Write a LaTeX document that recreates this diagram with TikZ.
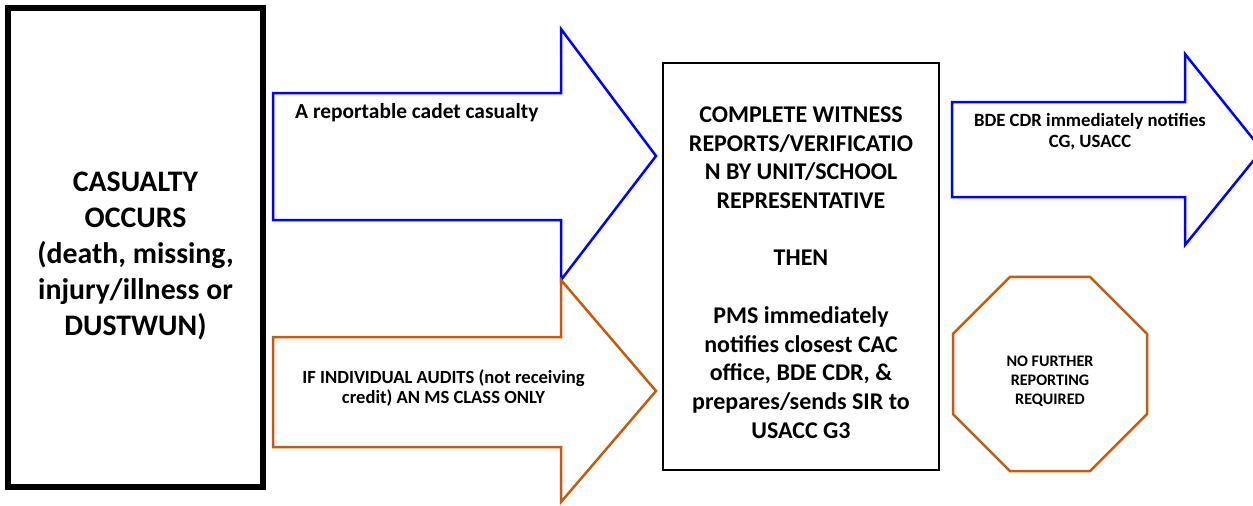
\documentclass[tikz,border=0pt]{standalone}
\usepackage{fontspec}
\setmainfont{Carlito}[BoldFont={Carlito Bold}]
\usetikzlibrary{positioning,calc,shapes.geometric}
\definecolor{ReportBlue}{RGB}{0,0,255}
\definecolor{AuditOrange}{RGB}{197,90,17}

\begin{document}
\begin{tikzpicture}[x=1pt, y=-1pt,
		box/.style={draw, fill=white, inner sep=0pt},
		txt/.style={font=\bfseries, align=center, inner sep=0pt},
		blockarrow/.style={line width=2.5pt, line join=miter, fill=white},
		]
		\useasboundingbox (0,0) rectangle (1253,506);
		
		% ===== left box: casualty occurs =====
		\node[box, line width=6pt, minimum width=255pt, minimum height=479pt] (casualty) at (135.5,247.5) {};
		\node[txt, font=\bfseries\fontsize{29.8}{36}\selectfont] (casualtytxt)
		at ($(casualty.center)+(0,8)$)
		{CASUALTY\\OCCURS\\(death, missing,\\injury/illness or\\DUSTWUN)};
		
		% ===== blue arrow: reportable casualty =====
		\draw[blockarrow, draw=ReportBlue]
		(273,93) -- (561,93) -- (561,29) -- (656,156) -- (561,280) -- (561,220) -- (273,220) -- cycle;
		\node[txt, anchor=west, font=\bfseries\fontsize{21.4}{24}\selectfont] (reportable)
		at (295,113) {A reportable cadet casualty};
		
		% ===== orange arrow: audits only =====
		\draw[blockarrow, draw=AuditOrange]
		(273,337) -- (561,337) -- (561,280) -- (656,391) -- (561,502) -- (561,447) -- (273,447) -- cycle;
		\node[txt, font=\bfseries\fontsize{18.6}{20}\selectfont] (audits)
		at (443.5,388) {IF INDIVIDUAL AUDITS (not receiving\\credit) AN MS CLASS ONLY};
		
		% ===== middle box =====
		\node[box, line width=2pt, minimum width=276pt, minimum height=407pt] (witness) at (801,266.5) {};
		\node[txt, font=\bfseries\fontsize{24}{28.7}\selectfont] (witnesstxt)
		at ($(witness.center)+(0,6)$)
		{COMPLETE WITNESS\\REPORTS/VERIFICATIO\\N BY UNIT/SCHOOL\\REPRESENTATIVE\\[28.7pt]THEN\\[28.7pt]%
			PMS immediately\\notifies closest CAC\\office, BDE CDR, \&\\prepares/sends SIR to\\USACC G3};
		
		% ===== right blue arrow =====
		\draw[blockarrow, draw=ReportBlue]
		(952,102) -- (1185,102) -- (1185,54) -- (1262,150) -- (1185,245) -- (1185,197) -- (952,197) -- cycle;
		\node[txt, font=\bfseries\fontsize{18.7}{21}\selectfont] (notifies)
		at (1090,131.5) {BDE CDR immediately notifies\\CG, USACC};
		
		% ===== octagon: stop =====
		\node[regular polygon, regular polygon sides=8, draw=AuditOrange, line width=2.5pt,
		minimum size=210pt, inner sep=0pt] (nofurther) at (1050,374) {};
		\node[txt, font=\bfseries\fontsize{16.1}{19}\selectfont] (nofurthertxt)
		at ($(nofurther.center)+(0,7)$) {NO FURTHER\\REPORTING\\REQUIRED};
		
	\end{tikzpicture}
\end{document}
